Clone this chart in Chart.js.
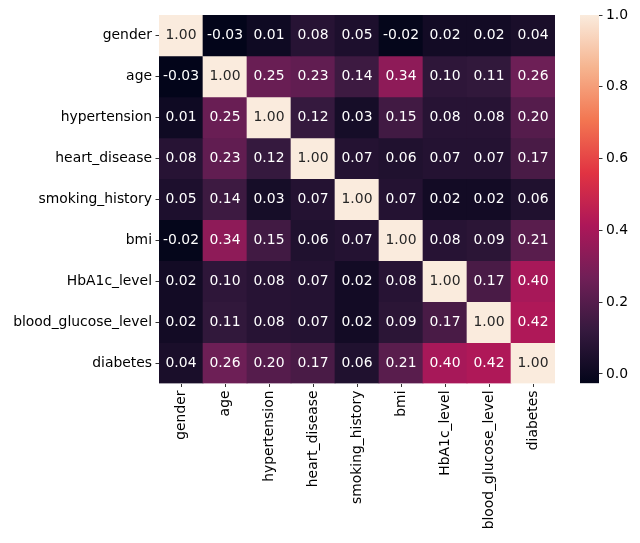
<!DOCTYPE html>
<html>
<head>
<meta charset="utf-8">
<script src="https://cdn.jsdelivr.net/npm/chart.js@4/dist/chart.umd.min.js"></script>
<style>
  html, body { margin: 0; padding: 0; background: #fff; }
  #wrap { position: relative; width: 640px; height: 543px; }
  #heatBox { position: absolute; left: 0; top: 0; width: 640px; height: 543px; }
  #cbarBox { position: absolute; left: 570px; top: 0; width: 70px; height: 543px; }
</style>
</head>
<body>
<div id="wrap">
  <div id="heatBox"><canvas id="heat"></canvas></div>
  <div id="cbarBox"><canvas id="cbar"></canvas></div>
</div>
<script>
// features (rows and columns are the same)
const features = ["gender", "age", "hypertension", "heart_disease", "smoking_history",
                  "bmi", "HbA1c_level", "blood_glucose_level", "diabetes"];

// correlation values
const corrGender   = [1.00, -0.03, 0.01, 0.08, 0.05, -0.02, 0.02, 0.02, 0.04];
const corrAge      = [-0.03, 1.00, 0.25, 0.23, 0.14, 0.34, 0.10, 0.11, 0.26];
const corrHyper    = [0.01, 0.25, 1.00, 0.12, 0.03, 0.15, 0.08, 0.08, 0.20];
const corrHeart    = [0.08, 0.23, 0.12, 1.00, 0.07, 0.06, 0.07, 0.07, 0.17];
const corrSmoking  = [0.05, 0.14, 0.03, 0.07, 1.00, 0.07, 0.02, 0.02, 0.06];
const corrBmi      = [-0.02, 0.34, 0.15, 0.06, 0.07, 1.00, 0.08, 0.09, 0.21];
const corrHba1c    = [0.02, 0.10, 0.08, 0.07, 0.02, 0.08, 1.00, 0.17, 0.40];
const corrGlucose  = [0.02, 0.11, 0.08, 0.07, 0.02, 0.09, 0.17, 1.00, 0.42];
const corrDiabetes = [0.04, 0.26, 0.20, 0.17, 0.06, 0.21, 0.40, 0.42, 1.00];
const corr = [corrGender, corrAge, corrHyper, corrHeart, corrSmoking,
              corrBmi, corrHba1c, corrGlucose, corrDiabetes];

// colour bar range and ticks
const vmin = -0.026;
const vmax = 1.0;
const cbarTicks = [0.0, 0.2, 0.4, 0.6, 0.8, 1.0];

// seaborn "rocket" colormap, sampled stops
const rocket = [
    [0 / 7, [3, 5, 26]],
    [1 / 7, [53, 25, 62]],
    [2 / 7, [112, 31, 87]],
    [3 / 7, [173, 23, 89]],
    [4 / 7, [225, 51, 66]],
    [5 / 7, [243, 118, 81]],
    [6 / 7, [246, 180, 143]],
    [7 / 7, [250, 235, 221]]
];

function rocketRGB(t) {
    t = Math.min(1, Math.max(0, t));
    for (let i = 1; i < rocket.length; i++) {
        if (t <= rocket[i][0]) {
            const [t0, c0] = rocket[i - 1];
            const [t1, c1] = rocket[i];
            const f = (t - t0) / (t1 - t0);
            return c0.map((c, k) => Math.round(c + (c1[k] - c) * f));
        }
    }
    return rocket[rocket.length - 1][1];
}

function valueColor(v) {
    const c = rocketRGB((v - vmin) / (vmax - vmin));
    return "rgb(" + c.join(",") + ")";
}

// same rule seaborn uses to pick annotation colour
function textColor(v) {
    const c = rocketRGB((v - vmin) / (vmax - vmin)).map(x => {
        x = x / 255;
        return x <= 0.03928 ? x / 12.92 : Math.pow((x + 0.055) / 1.055, 2.4);
    });
    const lum = 0.2126 * c[0] + 0.7152 * c[1] + 0.0722 * c[2];
    return lum > 0.408 ? "#262626" : "#ffffff";
}

const FONT = { family: "'DejaVu Sans', sans-serif", size: 13.9 };
Chart.defaults.font.family = FONT.family;
Chart.defaults.font.size = FONT.size;
Chart.defaults.color = "#000";

const tickGrid = {
    drawOnChartArea: false,
    drawTicks: true,
    offset: false,
    tickLength: 3.5,
    color: "#000",
    lineWidth: 0.8
};

// writes the value in the middle of every cell
const cellText = {
    id: "cellText",
    afterDatasetsDraw(chart) {
        const { ctx, scales } = chart;
        ctx.save();
        ctx.font = FONT.size + "px " + FONT.family;
        ctx.textAlign = "center";
        ctx.textBaseline = "middle";
        corr.forEach((row, r) => {
            row.forEach((v, c) => {
                ctx.fillStyle = textColor(v);
                ctx.fillText(v.toFixed(2), scales.x.getPixelForValue(c), scales.y.getPixelForValue(r + 0.5));
            });
        });
        ctx.restore();
    }
};

new Chart(document.getElementById("heat"), {
    type: "bar",
    data: {
        labels: features,
        datasets: features.map((name, r) => ({
            label: name,
            data: features.map(() => [r, r + 1]),
            backgroundColor: corr[r].map(valueColor),
            borderWidth: 0,
            grouped: false,
            barPercentage: 1,
            categoryPercentage: 1
        }))
    },
    options: {
        responsive: true,
        maintainAspectRatio: false,
        animation: false,
        layout: { padding: { left: 0, top: 15, right: 85, bottom: 0 } },
        plugins: { legend: { display: false }, tooltip: { enabled: false } },
        scales: {
            x: {
                type: "category",
                grid: tickGrid,
                border: { display: false },
                ticks: { autoSkip: false, minRotation: 90, maxRotation: 90, padding: 3.5 },
                afterFit(scale) { scale.height = 159.5; }
            },
            y: {
                type: "linear",
                reverse: true,
                min: 0,
                max: features.length,
                grid: tickGrid,
                border: { display: false },
                ticks: {
                    autoSkip: false,
                    padding: 3.5,
                    callback: (v, i) => features[i]
                },
                afterBuildTicks(scale) {
                    scale.ticks = features.map((_, i) => ({ value: i + 0.5 }));
                },
                afterFit(scale) { scale.width = 159; }
            }
        }
    },
    plugins: [cellText]
});

// colour bar: one floating bar filled with the colormap
new Chart(document.getElementById("cbar"), {
    type: "bar",
    data: {
        labels: ["cbar"],
        datasets: [{
            data: [[vmin, vmax]],
            backgroundColor(context) {
                const area = context.chart.chartArea;
                if (!area) return "#000";
                const g = context.chart.ctx.createLinearGradient(0, area.bottom, 0, area.top);
                rocket.forEach(([t, c]) => g.addColorStop(t, "rgb(" + c.join(",") + ")"));
                return g;
            },
            borderWidth: 0,
            barPercentage: 1,
            categoryPercentage: 1
        }]
    },
    options: {
        responsive: true,
        maintainAspectRatio: false,
        animation: false,
        layout: { padding: { left: 10, top: 15, right: 0, bottom: 159.7 } },
        plugins: { legend: { display: false }, tooltip: { enabled: false } },
        scales: {
            x: { display: false },
            y: {
                position: "right",
                min: vmin,
                max: vmax,
                grid: tickGrid,
                border: { display: false },
                ticks: { padding: 3.5, callback: v => v.toFixed(1) },
                afterBuildTicks(scale) {
                    scale.ticks = cbarTicks.map(v => ({ value: v }));
                },
                afterFit(scale) { scale.width = 41; }
            }
        }
    }
});
</script>
</body>
</html>
